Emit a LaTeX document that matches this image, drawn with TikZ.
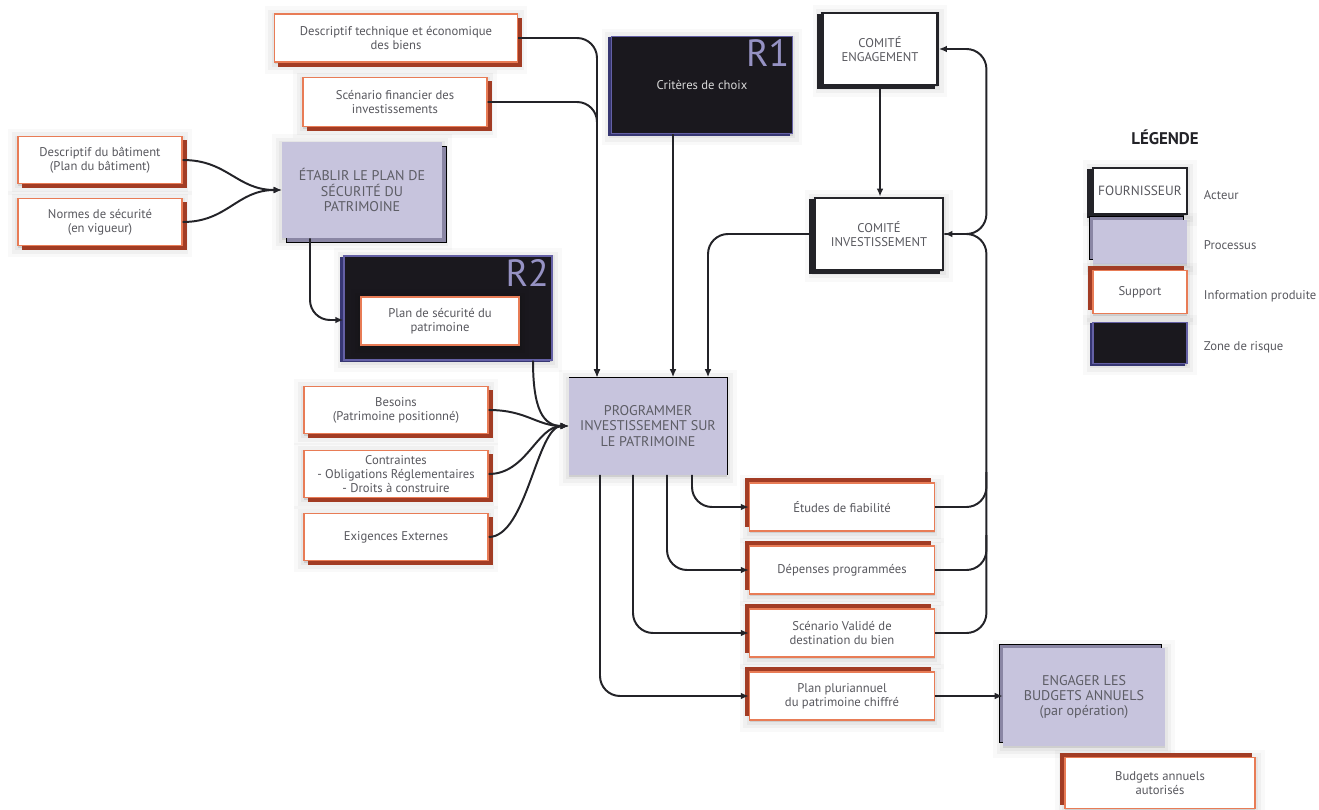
\documentclass[tikz,border=0pt]{standalone}
\usepackage{fontspec}
\setmainfont{PT Sans}
\usetikzlibrary{arrows.meta,calc,shadows}
\definecolor{ink}{RGB}{35,35,40}
\definecolor{grey}{RGB}{88,88,94}
\definecolor{coral}{RGB}{232,124,86}
\definecolor{rust}{RGB}{162,60,36}
\definecolor{lilac}{RGB}{199,196,221}
\definecolor{lilacdark}{RGB}{138,134,164}
\definecolor{night}{RGB}{26,24,30}
\definecolor{indigo}{RGB}{100,96,165}
\definecolor{indigodark}{RGB}{55,55,115}
\definecolor{mauve}{RGB}{150,146,196}
\tikzset{
  >={Latex[length=2mm,width=1.7mm]},
  % sens du relief
  br/.style={shadow xshift=3pt,shadow yshift=-3pt},
  tl/.style={shadow xshift=-3pt,shadow yshift=3pt},
  flat/.style={shadow xshift=0pt,shadow yshift=0pt},
  halo/.style={
    general shadow={shadow xshift=0pt,shadow yshift=-1.5pt,draw=black,fill=black,opacity=0.025,line width=14pt,rounded corners=6pt},
    general shadow={shadow xshift=0pt,shadow yshift=-1.5pt,draw=black,fill=black,opacity=0.035,line width=9pt,rounded corners=4pt},
    general shadow={shadow xshift=0pt,shadow yshift=-1.5pt,draw=black,fill=black,opacity=0.045,line width=4pt,rounded corners=2pt}},
  support/.style={draw=coral,fill=white,line width=1pt,halo,
    copy shadow={fill=rust,draw=rust,#1},align=center,inner sep=2pt,
    font=\fontsize{9}{10}\selectfont,text=grey},
  support/.default=tl,
  process/.style={fill=lilac,halo,copy shadow={fill=lilacdark,#1},align=center,
    font=\fontsize{10}{11}\selectfont,text=grey!90!lilacdark},
  process/.default=tl,
  actor/.style={draw=ink,fill=white,line width=2pt,halo,
    copy shadow={fill=ink,draw=ink,shadow xshift=-3pt,shadow yshift=-1.5pt},
    align=center,font=\fontsize{9}{10}\selectfont,text=grey},
  risk/.style={draw=indigo,fill=night,line width=1pt,halo,
    copy shadow={fill=indigodark,draw=indigodark,shadow xshift=-2pt,shadow yshift=-1pt},
    align=center,font=\fontsize{9}{10}\selectfont,text=white!85!black},
  rlabel/.style={text=mauve,font=\fontsize{27}{27}\selectfont,inner sep=2.5pt},
  legtext/.style={anchor=west,text=grey,font=\fontsize{9}{10}\selectfont},
  flow/.style={->,draw=ink,line width=1.4pt,rounded corners=5mm},
  link/.style={draw=ink,line width=1.4pt,rounded corners=5mm},
}
\begin{document}
\begin{tikzpicture}[x=0.25mm,y=-0.25mm]
\useasboundingbox (0,0) rectangle (1319,810);
% informations en entree
\node[support=br,minimum width=60.75mm,minimum height=12mm] (desc) at (396,38) {Descriptif technique et économique\\des biens};
\node[support=br,minimum width=46mm,minimum height=12.25mm] (sfin) at (395,102) {Scénario financier des\\investissements};
\node[support=br,minimum width=41mm,minimum height=11.75mm] (dbat) at (100,160) {Descriptif du bâtiment\\(Plan du bâtiment)};
\node[support=br,minimum width=41mm,minimum height=11.75mm] (norm) at (100,222) {Normes de sécurité\\(en vigueur)};
\foreach \n/\y/\txt in {bes/410/{Besoins\\(Patrimoine positionné)},
    ctr/474/{Contraintes\\- Obligations Réglementaires\\- Droits à construire},
    exi/537/{Exigences Externes}}
  \node[support=br,minimum width=46mm,minimum height=11.75mm] (\n) at (396,\y) {\txt};
% acteurs et zones de risque
\node[risk,minimum width=45.25mm,minimum height=24.25mm] (r1) at (702,85) {Critères de choix};
\node[rlabel,anchor=north east] (r1lab) at (r1.north east) {R1};
\node[actor,minimum width=28.75mm,minimum height=18mm] (ceng) at (880,49) {COMITÉ\\ENGAGEMENT};
\node[actor,minimum width=32mm,minimum height=18mm] (cinv) at (879,234) {COMITÉ\\INVESTISSEMENT};
\node[risk,minimum width=52mm,minimum height=26mm] (r2) at (448,308) {};
\node[rlabel,anchor=north east] (r2lab) at (r2.north east) {R2};
\node[support=flat,line width=0.8pt,minimum width=39.5mm,minimum height=12mm] (psec) at (440,321) {Plan de sécurité du\\patrimoine};
% processus
\node[process=br,minimum width=40mm,minimum height=24mm] (etab) at (362,190) {ÉTABLIR LE PLAN DE\\SÉCURITÉ DU\\PATRIMOINE};
\node[process=flat,minimum width=39.5mm,minimum height=24.25mm] (prog) at (648,426) {PROGRAMMER\\INVESTISSEMENT SUR\\LE PATRIMOINE};
\node[process=tl,minimum width=40.5mm,minimum height=24.5mm] (eng) at (1084,697) {ENGAGER LES\\BUDGETS ANNUELS\\(par opération)};
% informations produites
\foreach \n/\y/\txt in {etu/507/{Études de fiabilité},dep/570/{Dépenses programmées},
    scv/633/{Scénario Validé de\\destination du bien},plan/696/{Plan pluriannuel\\du patrimoine chiffré}}
  \node[support,minimum width=46.25mm,minimum height=12mm] (\n) at (842,\y) {\txt};
\node[support,minimum width=47.5mm,minimum height=12.75mm] (baut) at (1160,783) {Budgets annuels\\autorisés};
% legende
\node[text=ink,font=\bfseries\fontsize{12}{12}\selectfont] (legtitle) at (1165,137) {LÉGENDE};
\node[actor,minimum width=23.5mm,minimum height=11.5mm,inner sep=0pt,font=\fontsize{9.5}{10}\selectfont] (lact) at (1140,191) {FOURNISSEUR};
\node[process,minimum width=23.5mm,minimum height=10.75mm] (lproc) at (1140,242) {};
\node[support,minimum width=23.5mm,minimum height=10.75mm] (lsup) at (1140,292) {Support};
\node[risk,minimum width=23.5mm,minimum height=10.25mm] (lrisk) at (1140,343) {};
\node[legtext] at (1199,195) {Acteur};
\node[legtext] at (1199,245) {Processus};
\node[legtext] at (1199,296) {Information produite};
\node[legtext] at (1199,347) {Zone de risque};
% ports
\coordinate (pin1) at ($(prog.north)+(-51,0)$);
\coordinate (pin2) at ($(prog.north)+(25,0)$);
\coordinate (pin3) at ($(prog.north)+(60,0)$);
\coordinate (bus) at ($(cinv.east)+(42,0)$);
% liens
\draw[flow] (dbat.east) .. controls +(45,0) and +(-45,0) .. (etab.west);
\draw[flow] (norm.east) .. controls +(45,0) and +(-45,0) .. (etab.west);
\draw[flow] ($(etab.south)+(-52,0)$) |- ($(r2.west)+(0,12)$);
\draw[flow] (desc.east) -| (pin1);
\draw[flow] (sfin.east) -| (pin1);
\draw[flow] (r1.south -| pin2) -- (pin2);
\draw[flow] (cinv.west) -| (pin3);
\draw[flow] (ceng.south) -- (ceng.south |- cinv.north);
\draw[flow] ($(r2.south)+(85,0)$) .. controls +(0,50) and +(-25,0) .. (prog.west);
\foreach \src in {bes,ctr,exi}
  \draw[flow] (\src.east) .. controls +(38,0) and +(-32,0) .. (prog.west);
\foreach \dx/\tgt in {44/etu,19/dep,-15/scv,-48/plan}
  \draw[flow] ($(prog.south)+(\dx,0)$) |- (\tgt.west);
\draw[link] (etu.east) -| ($(bus |- etu.east)+(0,-35)$);
\draw[link] (dep.east) -| ($(bus |- dep.east)+(0,-35)$);
\draw[flow] (scv.east) -| (bus) -- (cinv.east);
\draw[flow] (cinv.east) -- (bus) |- (ceng.east);
\draw[flow] (plan.east) -- (plan.east -| eng.west);
\end{tikzpicture}
\end{document}
